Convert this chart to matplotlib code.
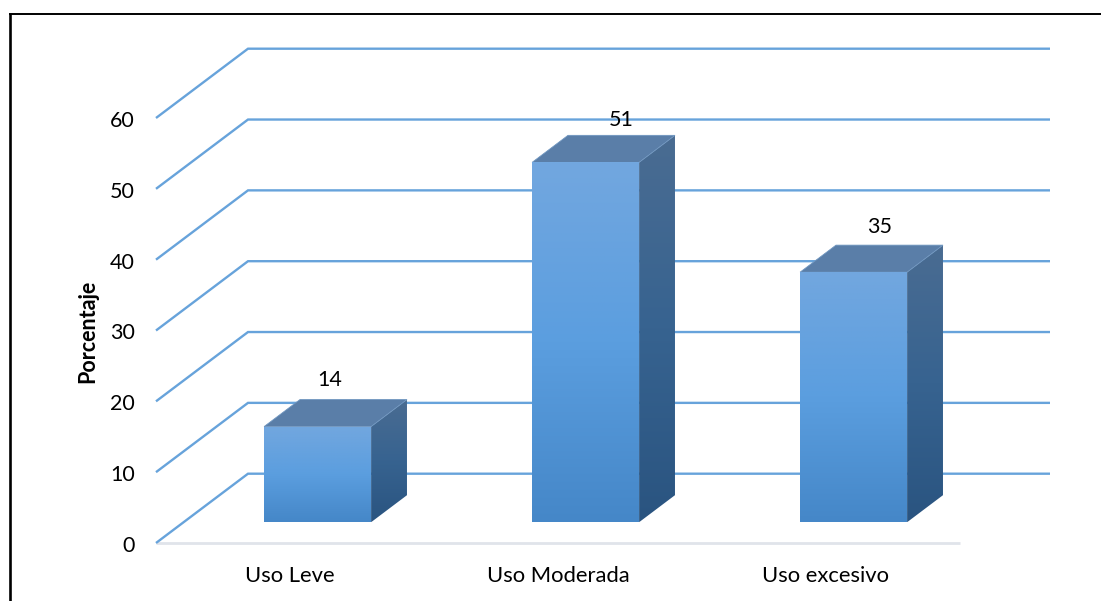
import numpy as np
import matplotlib
matplotlib.use("Agg")
import matplotlib.pyplot as plt
from matplotlib.colors import LinearSegmentedColormap
from matplotlib.lines import Line2D
from matplotlib.patches import Polygon

categories = ["Uso Leve", "Uso Moderada", "Uso excesivo"]
values = [13.5, 50.8, 35.3]
value_labels = ["14", "51", "35"]
ticks = [0, 10, 20, 30, 40, 50, 60]
ylabel = "Porcentaje"

# pixel nudges of the value labels relative to the bar's front centre / back top edge
label_dx = [12, 36, 26]
label_dy = [10, 5, 8]

W, H = 1101, 601
plt.rcParams["font.family"] = ["Lato", "DejaVu Sans"]
fig = plt.figure(figsize=(W / 100, H / 100), dpi=100)
L, R, B, T = 156, 960, 543, 118
ax = fig.add_axes([L / W, 1 - B / H, (R - L) / W, (B - T) / H])
ax.set_xlim(-0.5, 2.5)
ax.set_ylim(0, 60)
ax.axis("off")

PX_X = 268.0
PX_Y = 425 / 60
DX = 92 / PX_X
DY = 69.3 / PX_Y


def proj(x, v, d):
    return (x + d * DX, v + d * DY)


GRID = "#67A3DB"
ax.plot([-0.5, 2.5], [0, 0], color="#E0E4EA", lw=2, clip_on=False, zorder=1, solid_capstyle="butt")
right_end = -0.5 + (1050 - 156 - 92) / PX_X
for t in ticks:
    xs = [proj(-0.5, t, 0)[0], proj(-0.5, t, 1)[0], proj(right_end, t, 1)[0]]
    ys = [proj(-0.5, t, 0)[1], proj(-0.5, t, 1)[1], proj(right_end, t, 1)[1]]
    ax.plot(xs, ys, color=GRID, lw=1.7, clip_on=False, zorder=2, solid_joinstyle="miter",
            solid_capstyle="butt")
    ax.annotate(str(t), (-0.5, t), xytext=(-21, -3), textcoords="offset pixels",
                ha="right", va="center", fontsize=15.5, color="black", annotation_clip=False)

cm_front = LinearSegmentedColormap.from_list("f", ["#72A7DF", "#5B9EDF", "#4587C8"])
cm_side = LinearSegmentedColormap.from_list("s", ["#4A6C92", "#376390", "#2A5480"])
grad = np.linspace(0, 1, 256).reshape(-1, 1)

HALF = 107 / 2 / PX_X
D0, D1 = 0.3, 0.69


def gradient_poly(pts, cmap, z):
    pts = np.array(pts)
    poly = Polygon(pts, closed=True, transform=ax.transData, fc="none", ec="none")
    ax.add_patch(poly)
    im = ax.imshow(grad, cmap=cmap, aspect="auto", zorder=z, origin="upper",
                   extent=[pts[:, 0].min(), pts[:, 0].max(), pts[:, 1].min(), pts[:, 1].max()])
    im.set_clip_path(poly)


for i, v in enumerate(values):
    x0, x1 = i - HALF, i + HALF
    front = [proj(x0, 0, D0), proj(x1, 0, D0), proj(x1, v, D0), proj(x0, v, D0)]
    side = [proj(x1, 0, D0), proj(x1, 0, D1), proj(x1, v, D1), proj(x1, v, D0)]
    top = [proj(x0, v, D0), proj(x1, v, D0), proj(x1, v, D1), proj(x0, v, D1)]
    gradient_poly(side, cm_side, 3)
    ax.add_patch(Polygon(top, closed=True, fc="#5A7EA8", ec="#6F96C0", lw=0.6, zorder=3.2, clip_on=False))
    gradient_poly(front, cm_front, 3.4)
    fx, _ = proj(i, v, D0)
    _, ty = proj(i, v, D1)
    ax.annotate(value_labels[i], (fx, ty), xytext=(label_dx[i], label_dy[i]), textcoords="offset pixels",
                ha="center", va="bottom", fontsize=15.5, color="black", zorder=6, annotation_clip=False)
    ax.annotate(categories[i], (i, 0), xytext=(0, -33), textcoords="offset pixels",
                ha="center", va="center", fontsize=15.8, color="black", annotation_clip=False)

ax.set_xlim(-0.5, 2.5)
ax.set_ylim(0, 60)

fig.text(88 / W, 1 - 331 / H, ylabel, rotation=90, ha="center", va="center",
         fontsize=15.5, fontweight="bold", color="black")

fig.add_artist(Line2D([10 / W, 10 / W], [0, 1 - 13 / H], color="black", lw=1.9, solid_capstyle="butt"))
fig.add_artist(Line2D([9 / W, 1], [1 - 14 / H, 1 - 14 / H], color="black", lw=1.4, solid_capstyle="butt"))

fig.savefig("out.png", dpi=100)
